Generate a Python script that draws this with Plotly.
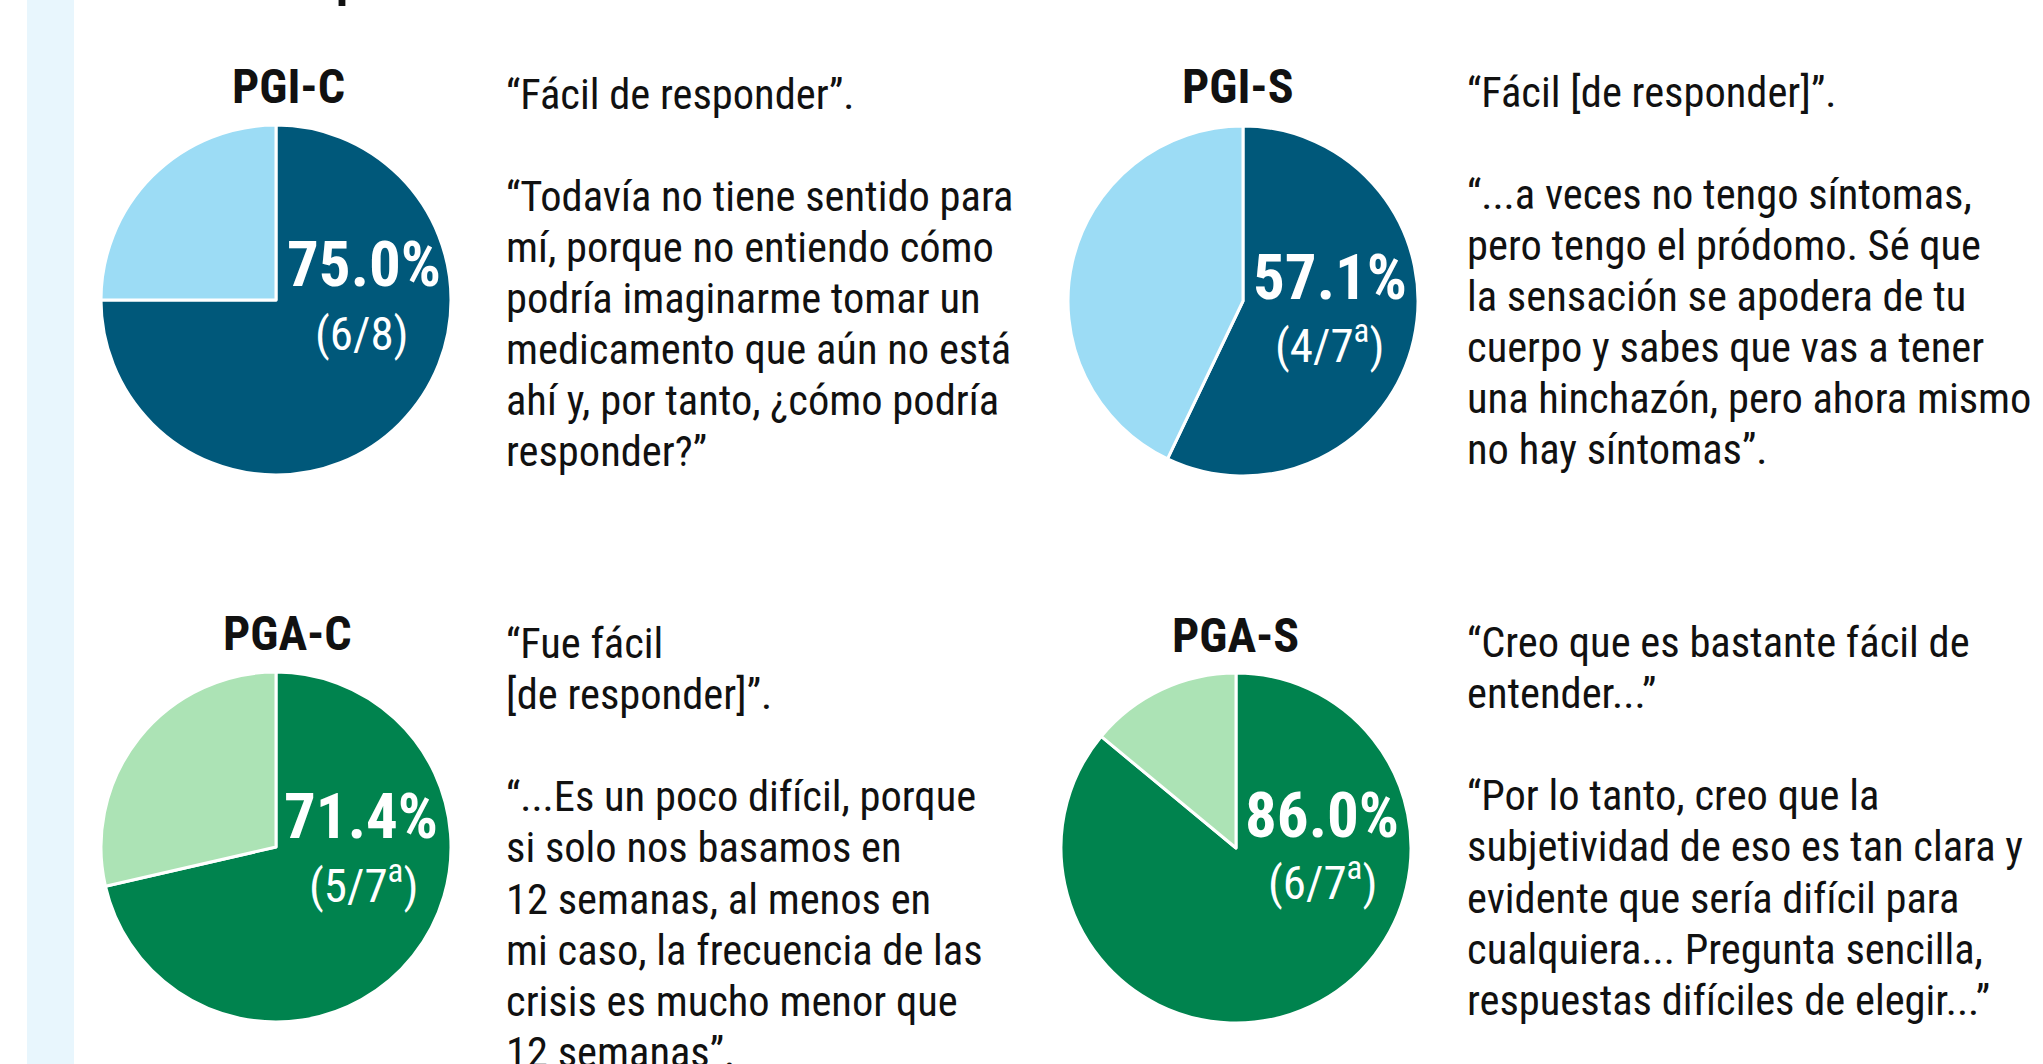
import plotly.graph_objects as go

W, H = 2043, 1064

# ---------------- data ----------------
titles = ["PGI-C", "PGI-S", "PGA-C", "PGA-S"]
pct_easy = [75.0, 57.1, 71.4, 86.0]
fractions = ["(6/8)", "(4/7<sup>a</sup>)", "(5/7<sup>a</sup>)", "(6/7<sup>a</sup>)"]
quotes = [
    ["“Fácil de responder”.", "",
     "“Todavía no tiene sentido para", "mí, porque no entiendo cómo",
     "podría imaginarme tomar un", "medicamento que aún no está",
     "ahí y, por tanto, ¿cómo podría", "responder?”"],
    ["“Fácil [de responder]”.", "",
     "“...a veces no tengo síntomas,", "pero tengo el pródomo. Sé que",
     "la sensación se apodera de tu", "cuerpo y sabes que vas a tener",
     "una hinchazón, pero ahora mismo", "no hay síntomas”."],
    ["“Fue fácil", "[de responder]”.", "",
     "“...Es un poco difícil, porque", "si solo nos basamos en",
     "12 semanas, al menos en", "mi caso, la frecuencia de las",
     "crisis es mucho menor que", "12 semanas”."],
    ["“Creo que es bastante fácil de", "entender...”", "",
     "“Por lo tanto, creo que la", "subjetividad de eso es tan clara y",
     "evidente que sería difícil para", "cualquiera... Pregunta sencilla,",
     "respuestas difíciles de elegir...”"],
]
dark_colors = ["#00587A", "#00587A", "#00834E", "#00834E"]
light_colors = ["#9CDCF5", "#9CDCF5", "#ACE3B5", "#ACE3B5"]

# ---------------- layout (pixels) ----------------
pie_centers = [(276, 300), (1243, 301), (276, 847), (1236, 848)]
pie_r = 175
title_pos = [(288, 105), (1238, 105), (287, 652), (1235, 654)]
pct_pos = [(364, 288), (1330, 301), (361, 840), (1322, 839)]
frac_pos = [(362, 351), (1329, 363), (363, 903), (1322, 900)]
quote_pos = [(504, 109.5), (1465, 107.5), (504, 659), (1465, 658)]
LINE_STEP = 51.1

FONT = "Liberation Sans Narrow, Roboto Condensed, Arial Narrow, Roboto, sans-serif"
DESC, PAD = 0.212, 2


def px(x):
    return x / W


def py(y):
    return 1 - y / H


def baseline_ann(text, x, base, fs, color, xanchor="center", bold=False):
    t = f"<b>{text}</b>" if bold else text
    return dict(text=t, x=px(x), y=py(base + DESC * fs + PAD),
                xanchor=xanchor, yanchor="bottom", showarrow=False, align="left",
                font=dict(family=FONT, size=fs, color=color))


fig = go.Figure()
annotations = []

for i in range(4):
    cx, cy = pie_centers[i]
    fig.add_trace(go.Pie(
        values=[pct_easy[i], 100 - pct_easy[i]],
        labels=["Fácil", "Otro"],
        sort=False,
        direction="clockwise",
        rotation=0,
        textinfo="none",
        hoverinfo="skip",
        showlegend=False,
        marker=dict(colors=[dark_colors[i], light_colors[i]],
                    line=dict(color="white", width=3)),
        domain=dict(x=[px(cx - pie_r), px(cx + pie_r)],
                    y=[py(cy + pie_r), py(cy - pie_r)]),
    ))

    tx, tb = title_pos[i]
    annotations.append(baseline_ann(titles[i], tx, tb, 48, "#111111", bold=True))
    qx, qb = pct_pos[i]
    annotations.append(baseline_ann(f"{pct_easy[i]:.1f}%", qx, qb, 63, "white", bold=True))
    fx, fb = frac_pos[i]
    annotations.append(baseline_ann(fractions[i], fx, fb, 47, "white"))

    lx, lb = quote_pos[i]
    for k, line in enumerate(quotes[i]):
        if line:
            annotations.append(baseline_ann(line, lx, lb + k * LINE_STEP, 42.5, "#111111",
                                            xanchor="left"))

# clipped heading descender at the very top
annotations.append(baseline_ann("p", 334, -3, 50, "#111111", xanchor="left", bold=True))

fig.update_layout(
    width=W, height=H,
    margin=dict(l=0, r=0, t=0, b=0),
    paper_bgcolor="white",
    plot_bgcolor="white",
    annotations=annotations,
    shapes=[dict(type="rect", xref="paper", yref="paper", x0=px(27), x1=px(74), y0=0, y1=1,
                 fillcolor="#E8F6FD", line=dict(width=0), layer="below")],
)

fig.write_html("out.html",
               config={"displayModeBar": False},
               post_script="document.body.style.margin='0';document.body.style.overflow='hidden';")
